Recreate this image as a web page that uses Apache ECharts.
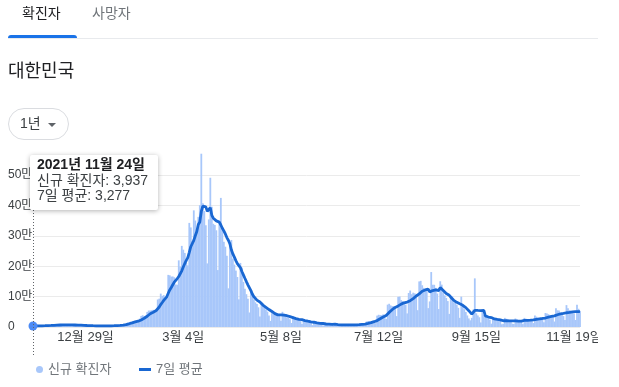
<!DOCTYPE html>
<html><head><meta charset="utf-8">
<script src="https://cdn.jsdelivr.net/npm/echarts/dist/echarts.min.js"></script>
<style>html,body{margin:0;padding:0;background:#fff;overflow:hidden}#c{width:619px;height:387px}</style>
</head><body><div id="c"></div><script>
// 신규 확진자 (daily new cases), first category = 2021-11-24
const startDate = [2021, 11, 24];
const casesPriorWeek = [3034, 3206, 3120, 2827, 2699, 4115]; // 11/18–11/23 (for the first 7-day averages)
const casesNov2021 = [3937, 3901, 4068, 3925, 3309, 3032, 5123];
const casesDec2021 = [5266, 4944, 5352, 5128, 4325, 4954, 7175, 7102, 7022, 6977, 6689, 5817, 5567, 7850, 7622, 7435, 7314, 6236, 5318, 5202, 7456, 6919, 6233, 5842, 5419, 4207, 3865, 5409, 5037, 4875, 4416];
const casesJan2022 = [3833, 3129, 3024, 4444, 4126, 3713, 3511, 3376, 3005, 3094, 4388, 4167, 4542, 4422, 4194, 3859, 4071, 5805, 6603, 6767, 7009, 7630, 7513, 8571, 13012, 14518, 16096, 17542, 17528, 18342, 20270];
const casesFeb2022 = [20269, 22907, 27443, 36362, 38691, 35286, 36717, 49567, 54122, 53926, 54941, 56431, 54619, 57177, 90443, 93135, 109831, 102211, 104829, 95362, 99573, 171452, 170016, 165890, 166209, 163566, 139626, 138993];
const casesMar2022 = [219241, 198803, 266853, 254327, 243628, 210716, 202721, 342446, 327549, 282987, 383665, 350190, 309790, 362338, 400741, 570000, 407017, 381454, 334708, 209169, 353980, 490881, 395598, 339514, 335580, 318130, 187213, 347554, 424641, 320743, 280273];
const casesApr2022 = [264171, 234301, 127190, 266135, 286294, 224820, 205333, 185566, 164481, 90928, 210755, 195419, 148443, 125846, 107916, 93001, 47743, 118504, 111319, 90867, 81058, 75449, 64725, 34370, 81397, 76787, 63566, 57464, 50568, 37771];
const casesMay2022 = [20085, 51131, 49064, 42296, 40064, 39600, 37000, 20601, 49933, 43925, 35906, 32451, 29581, 25434, 13296, 35117, 29935, 26714, 23956, 22695, 19298, 9975, 23425, 22248, 18816, 16584, 15797, 13358, 6141, 16580, 15004];
const casesJun2022 = [12542, 10068, 12046, 9828, 5022, 6172, 13358, 12165, 9314, 8440, 7382, 3828, 9435, 9194, 7986, 7194, 6068, 5022, 3530, 9305, 9591, 7495, 7224, 6789, 6232, 3423, 9896, 10455, 9595, 10715];
const casesJul2022 = [10059, 9528, 6253, 18147, 19371, 18511, 19323, 20286, 20410, 12693, 37360, 40266, 39196, 38882, 41310, 40342, 26299, 73582, 76402, 71170, 68632, 68551, 65433, 35883, 99327, 100285, 88384, 85320, 82002, 73589, 44689];
const casesAug2022 = [111789, 119922, 107894, 112901, 110666, 105507, 55292, 149897, 151792, 137241, 128714, 124592, 119603, 62078, 84128, 180803, 139000, 138812, 128714, 110000, 59046, 150503, 139339, 113371, 103961, 95604, 85295, 43142, 103961, 101235, 81573];
const casesSep2022 = [79719, 73551, 63117, 30120, 99837, 71444, 58650, 49406, 37952, 28214, 22000, 30000, 57309, 160000, 45000, 38000, 32000, 15000, 52000, 40000, 33000, 30000, 27000, 24000, 11000, 31000, 29000, 27000, 25000, 23000];
const casesOct2022 = [20000, 9000, 11000, 30000, 27000, 24000, 21000, 19000, 11000, 10000, 28000, 25000, 22000, 20000, 18000, 9600, 30000, 27000, 25000, 24000, 23000, 21000, 13000, 38000, 34000, 30000, 29000, 27000, 25000, 16000, 46000];
const casesNov2022 = [44000, 42000, 37000, 35000, 33000, 18000, 62000, 55000, 54000, 46000, 42000, 36000, 23000, 72000, 62000, 55000, 52000, 47000, 44000, 23000, 73000, 60000, 53000];

const xTickLabels = ['12월 29일', '3월 4일', '5월 8일', '7월 12일', '9월 15일', '11월 19일'];
const yTickLabels = ['0', '10만', '20만', '30만', '40만', '50만'];
const seriesNames = ['신규 확진자', '7일 평균'];
const tooltipTitle = '2021년 11월 24일';

const cases = [].concat(casesNov2021, casesDec2021, casesJan2022, casesFeb2022, casesMar2022, casesApr2022,
  casesMay2022, casesJun2022, casesJul2022, casesAug2022, casesSep2022, casesOct2022, casesNov2022);

// categories: consecutive days from startDate
const categories = [];
const t0 = Date.UTC(startDate[0], startDate[1] - 1, startDate[2]);
for (let i = 0; i < cases.length; i++) {
  const d = new Date(t0 + i * 86400000);
  categories.push((d.getUTCMonth() + 1) + '월 ' + d.getUTCDate() + '일');
}
// 7-day average of the daily series
const allCases = casesPriorWeek.concat(cases);
const avg7 = cases.map((_, i) => { let s = 0; for (let k = 0; k < 7; k++) s += allCases[i + k]; return Math.round(s / 7); });

const FONT = "Arial, 'Liberation Sans', 'Noto Sans CJK KR', sans-serif";
const fmt = v => v.toLocaleString('en-US');
const barColor = '#a8c7fa', lineColor = '#1967d2';

const chart = echarts.init(document.getElementById('c'), null, { renderer: 'canvas' });
chart.setOption({
  animation: false,
  textStyle: { fontFamily: FONT },
  grid: { left: 33, right: 39, top: 175, bottom: 60 },
  legend: [
    { data: [seriesNames[0]], selectedMode: false, icon: 'circle', itemWidth: 7, itemHeight: 7, left: 31, top: 358,
      textStyle: { color: '#70757a', fontSize: 13, fontFamily: FONT } },
    { data: [seriesNames[1]], selectedMode: false, icon: 'rect', itemWidth: 12, itemHeight: 3, left: 134, top: 358,
      textStyle: { color: '#70757a', fontSize: 13, fontFamily: FONT } }
  ],
  xAxis: {
    type: 'category', data: categories, boundaryGap: false,
    axisLine: { show: false }, axisTick: { show: false },
    axisLabel: { interval: (idx, val) => xTickLabels.includes(val), color: '#3c4043', fontSize: 13, margin: 4, fontFamily: FONT },
    splitLine: { show: false }
  },
  yAxis: {
    type: 'value', min: 0, max: 500000, interval: 100000,
    axisLine: { show: false }, axisTick: { show: false },
    axisLabel: { formatter: v => yTickLabels[Math.round(v / 100000)], align: 'left', margin: 25, color: '#3c4043', fontSize: 12, fontFamily: FONT },
    splitLine: { lineStyle: { color: '#ebebeb', width: 1 } }
  },
  series: [
    { name: seriesNames[0], type: 'bar', data: cases, barWidth: 1.8, clip: false, silent: true,
      itemStyle: { color: barColor } },
    { name: seriesNames[1], type: 'line', silent: true, symbol: 'none', showAllSymbol: true, z: 5,
      itemStyle: { color: lineColor }, lineStyle: { color: lineColor, width: 2.8 },
      data: avg7.map((v, i) => i === 0 ? { value: v, symbol: 'circle', symbolSize: 9, itemStyle: { color: '#4c8bf5', borderWidth: 0 } } : v) }
  ],
  graphic: [
    // header tabs
    { type: 'text', left: 22, top: 7, style: { text: '확진자', fill: '#202124', font: '14px ' + FONT } },
    { type: 'text', left: 92, top: 7, style: { text: '사망자', fill: '#70757a', font: '14px ' + FONT } },
    { type: 'rect', shape: { x: 8, y: 38, width: 590, height: 1 }, style: { fill: '#e8eaed' } },
    { type: 'rect', shape: { x: 8, y: 35, width: 69, height: 3, r: [3, 3, 0, 0] }, style: { fill: '#1a73e8' } },
    { type: 'text', left: 8, top: 63, style: { text: '대한민국', fill: '#202124', font: '18px ' + FONT } },
    // 1년 pill
    { type: 'rect', shape: { x: 8.5, y: 108.5, width: 60, height: 31, r: 15.5 }, style: { fill: '#fff', stroke: '#dadce0', lineWidth: 1 } },
    { type: 'text', left: 20, top: 117, style: { text: '1년', fill: '#3c4043', font: '14px ' + FONT } },
    { type: 'polygon', shape: { points: [[48, 123], [56, 123], [52, 127]] }, style: { fill: '#5f6368' } },
    // clip of the widget's right edge (last axis label is cut there)
    { type: 'rect', z: 100, shape: { x: 598, y: 328, width: 21, height: 22 }, style: { fill: '#fff' } },
    // hover guide + tooltip
    { type: 'line', z: 20, shape: { x1: 33.5, y1: 210, x2: 33.5, y2: 355 }, style: { stroke: '#5f6368', lineWidth: 1, lineDash: [1, 2] } },
    { type: 'rect', z: 30, shape: { x: 30, y: 155, width: 128, height: 55, r: 2 },
      style: { fill: '#fff', shadowBlur: 5, shadowColor: 'rgba(0,0,0,0.3)', shadowOffsetY: 1 } },
    { type: 'text', z: 31, left: 37, top: 158, style: { text: tooltipTitle, fill: '#202124', font: 'bold 14px ' + FONT } },
    { type: 'text', z: 31, left: 37, top: 174, style: { text: seriesNames[0] + ': ' + fmt(cases[0]), fill: '#3c4043', font: '14px ' + FONT } },
    { type: 'text', z: 31, left: 37, top: 189, style: { text: seriesNames[1] + ': ' + fmt(avg7[0]), fill: '#3c4043', font: '14px ' + FONT } }
  ]
});
</script></body></html>
